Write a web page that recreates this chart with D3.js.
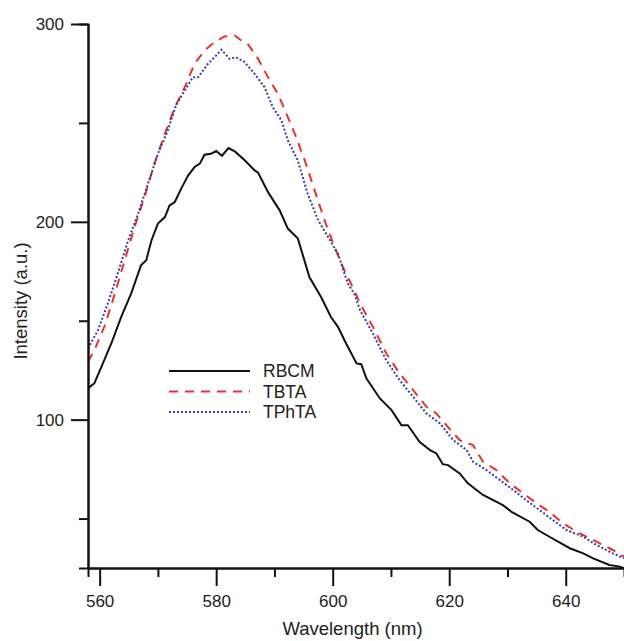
<html lang="en">
<head>
<meta charset="UTF-8">
<title>Emission spectra</title>
<style>
    body { margin: 0; background: #fff; }
    svg { display: block; font-family: "Liberation Sans", Arial, sans-serif; }
    .tick-label { font-size: 17px; fill: #222; }
    .axis-title { font-size: 18.5px; fill: #222; }
    .legend-label { font-size: 17.5px; fill: #222; }
</style>
</head>
<body>
<svg id="chart" width="624" height="641"></svg>
<script src="https://d3js.org/d3.v7.min.js"></script>
<script>
    // values: [wavelength nm, intensity a.u.]
    const rbcm = [
        [558.0, 115.8], [559.1, 118.4], [560.3, 126.7], [562.0, 138.5], [563.7, 151.9],
        [565.4, 163.7], [567.1, 178.0], [568.0, 180.6], [568.9, 190.7], [570.0, 199.1],
        [571.2, 202.4], [572.0, 208.3], [572.9, 210.0], [574.0, 216.8], [575.2, 223.5],
        [576.3, 227.7], [577.2, 229.4], [578.0, 233.9], [579.1, 234.4], [580.0, 235.8],
        [581.0, 233.4], [582.1, 237.3], [583.2, 235.6], [584.9, 231.1], [586.6, 226.0],
        [587.2, 224.8], [588.9, 215.0], [590.9, 205.8], [592.3, 196.6], [594.0, 191.7],
        [596.0, 172.1], [598.0, 162.0], [599.7, 151.9], [600.9, 146.9], [602.3, 138.5],
        [604.1, 128.4], [604.9, 128.0], [605.8, 120.8], [608.1, 110.7], [610.1, 104.8],
        [611.8, 97.2], [612.9, 97.2], [614.9, 88.8], [616.7, 84.6], [617.8, 82.9],
        [618.9, 77.5], [619.8, 77.0], [621.8, 72.8], [623.2, 67.8], [625.8, 61.9],
        [629.2, 56.8], [630.7, 53.4], [633.8, 48.4], [635.2, 44.2], [637.2, 40.8],
        [640.7, 35.0], [643.0, 32.4], [644.7, 29.9], [647.5, 26.5], [649.3, 25.7],
        [650.0, 24.9]
    ];
    const tbta = [
        [558.0, 129.2], [559.1, 135.1], [560.9, 147.7], [562.6, 163.7], [564.3, 180.6],
        [566.0, 197.4], [567.7, 212.5], [569.4, 229.4], [571.2, 244.5], [572.9, 258.0],
        [574.6, 268.1], [576.3, 279.9], [578.0, 286.6], [579.7, 290.8], [581.4, 293.7],
        [583.2, 294.2], [584.3, 291.7], [585.4, 290.0], [587.2, 282.4], [588.9, 273.1],
        [590.6, 264.7], [592.3, 252.9], [593.5, 244.5], [595.2, 231.1], [596.9, 215.9],
        [598.6, 200.8], [600.3, 187.3], [602.0, 175.5], [603.7, 165.4], [604.7, 158.7],
        [606.9, 146.9], [609.2, 133.4], [611.5, 123.3], [613.8, 114.9], [616.1, 106.5],
        [617.8, 103.1], [619.5, 97.2], [621.8, 89.6], [624.1, 87.1], [625.8, 78.7],
        [628.1, 74.5], [630.4, 67.8], [632.7, 62.7], [635.0, 57.7], [637.2, 53.4],
        [639.5, 47.6], [642.4, 42.5], [645.3, 38.3], [648.1, 34.1], [650.0, 30.7]
    ];
    const tphta = [
        [558.0, 136.0], [559.7, 145.2], [561.4, 158.7], [563.1, 173.8], [564.9, 190.7],
        [566.6, 204.1], [568.3, 219.3], [570.0, 234.4], [571.7, 246.2], [573.1, 258.8],
        [574.6, 266.4], [576.0, 273.1], [576.9, 273.1], [578.6, 279.9], [580.0, 284.1],
        [580.9, 287.0], [582.3, 282.4], [583.4, 283.2], [584.9, 280.7], [586.6, 274.8],
        [588.3, 268.1], [589.7, 258.0], [591.2, 251.3], [592.3, 241.2], [594.0, 231.1],
        [595.7, 214.2], [597.5, 200.8], [599.2, 192.3], [600.9, 183.9], [602.6, 168.8],
        [603.7, 163.7], [604.7, 155.3], [606.9, 143.5], [609.2, 130.0], [611.5, 119.9],
        [613.8, 111.5], [616.1, 103.1], [618.4, 98.1], [620.7, 89.6], [623.0, 84.6],
        [624.1, 78.7], [626.4, 74.5], [628.7, 69.4], [631.0, 64.4], [633.2, 59.3],
        [635.5, 54.3], [637.8, 49.2], [640.1, 44.2], [643.0, 40.8], [645.3, 36.6],
        [648.1, 32.4], [650.0, 29.9]
    ];

    const xMajor = [560, 580, 600, 620, 640];
    const xMinor = [570, 590, 610, 630];
    const yMajor = [100, 200, 300];
    const yMinor = [50, 150, 250];

    const series = [
        { name: "RBCM", values: rbcm, color: "#111111", dash: null },
        { name: "TBTA", values: tbta, color: "#e8312d", dash: "9,7" },
        { name: "TPhTA", values: tphta, color: "#3a3aa8", dash: "2,2" }
    ];

    const svg = d3.select("#chart");
    const plotLeft = 88, plotRight = 624, plotTop = 24, plotBottom = 568;

    const x = d3.scaleLinear().domain([558, 650]).range([plotLeft, plotRight]);
    const y = d3.scaleLinear().domain([25, 300]).range([plotBottom, plotTop]);

    svg.append("defs").append("clipPath").attr("id", "plot")
        .append("rect")
        .attr("x", plotLeft).attr("y", plotTop - 10)
        .attr("width", plotRight - plotLeft).attr("height", plotBottom - plotTop + 10);

    // curves
    const line = d3.line().x(d => x(d[0])).y(d => y(d[1]));
    svg.append("g").attr("clip-path", "url(#plot)")
        .selectAll("path")
        .data(series)
        .join("path")
        .attr("d", d => line(d.values))
        .attr("fill", "none")
        .attr("stroke", d => d.color)
        .attr("stroke-width", 2)
        .attr("stroke-dasharray", d => d.dash);

    // x axis
    const xAxis = svg.append("g").attr("transform", `translate(0,${plotBottom})`)
        .call(d3.axisBottom(x).tickValues(xMajor).tickSize(18).tickPadding(9).tickSizeOuter(0));
    xAxis.append("g")
        .call(d3.axisBottom(x).tickValues(xMinor).tickSize(9).tickFormat(""));

    // y axis
    const yAxis = svg.append("g").attr("transform", `translate(${plotLeft},0)`)
        .call(d3.axisLeft(y).tickValues(yMajor).tickSize(17).tickPadding(7).tickSizeOuter(0));
    yAxis.append("g")
        .call(d3.axisLeft(y).tickValues(yMinor).tickSize(9).tickFormat(""));

    // minor groups only need their ticks
    xAxis.select("g").select(".domain").remove();
    yAxis.select("g").select(".domain").remove();

    svg.selectAll(".domain").attr("stroke", "#111").attr("stroke-width", 2);
    svg.selectAll(".tick line").attr("stroke", "#111").attr("stroke-width", 2);
    svg.selectAll(".tick text").attr("class", "tick-label").attr("fill", null);
    xAxis.attr("font-size", null).attr("font-family", null);
    yAxis.attr("font-size", null).attr("font-family", null);

    // axis titles
    svg.append("text").attr("class", "axis-title")
        .attr("x", 352.5).attr("y", 635)
        .attr("text-anchor", "middle")
        .text("Wavelength (nm)");
    svg.append("text").attr("class", "axis-title")
        .attr("transform", "translate(27,301) rotate(-90)")
        .attr("text-anchor", "middle")
        .text("Intensity (a.u.)");

    // legend
    const legend = svg.append("g").attr("transform", "translate(169,371)");
    const item = legend.selectAll("g").data(series).join("g")
        .attr("transform", (d, i) => `translate(0,${i * 20.5})`);
    item.append("line")
        .attr("x1", 0).attr("x2", 81)
        .attr("stroke", d => d.color)
        .attr("stroke-width", 2)
        .attr("stroke-dasharray", d => d.dash);
    item.append("text").attr("class", "legend-label")
        .attr("x", 94).attr("dy", "0.35em")
        .text(d => d.name);
</script>
</body>
</html>
